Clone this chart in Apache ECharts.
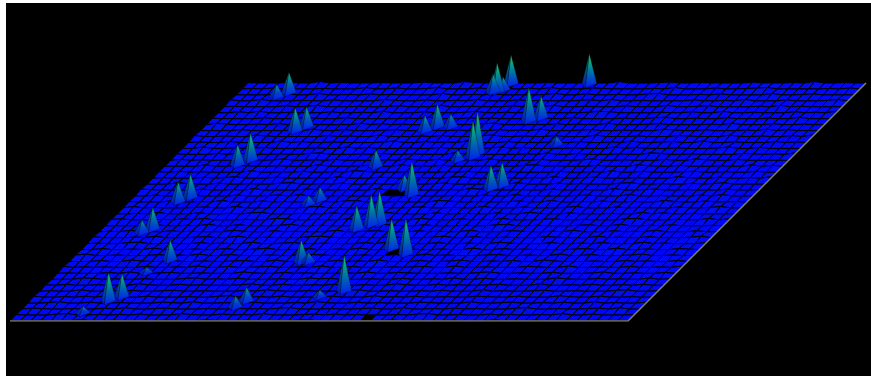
<!DOCTYPE html>
<html>
<head>
<meta charset="utf-8">
<script src="https://cdn.jsdelivr.net/npm/echarts@6/dist/echarts.min.js"></script>
<style>
  html, body { margin: 0; background: #fff; }
  #chart { position: absolute; left: 6px; top: 3px; width: 865px; height: 373px; }
</style>
</head>
<body>
<div id="chart"></div>
<script>
// surface size, in cells
const colCount = 60;
const rowCount = 40;

// small ripple of the floor, one string per row of vertices, front row first
const surfaceRows = [
  '0102001300201002100310020010230010020301001200030102001002010',
  '1000230010102000310020103000120201000102300100201001030020001',
  '0210010020300120001002010230001001200300102010002300100120300',
  '0013002001000210300100200010310020100021000300120010200301002',
  '2001020310020001002300102000120003010200100210020003100200100',
  '0100300102001200100020310010002300100102000301001200100023001',
  '1020010003100201000130020010200100310020100120003001020010200',
  '0003201001000230102000100312000100200103002001000310020100301',
  '0100020300120010003100201000103002100010023001002000130010020',
  '2010100020010300200120010300200010120030010002100300100200103',
  '0002003100200100120030010020103000200130010200310001002010020',
  '1300100020103002000100321000100200301000120010030020001300100',
  '0020010300010020013000200103000210010030020100001200300100210',
  '0100230010020100300120010002030100200100310002001020003010002',
  '2000103000120030010002310010020001300200100021000301002000130',
  '0103000201000310020100030012000201003000210010300020103000200',
  '0000120010300200013001000203100200010023001000120030010200010',
  '1200010203000100320010020100003100201030001200100023000100302',
  '0010300020010230001002000131000200100200310020001003020010000',
  '0301000120030001002301000200120010030002000130002010002001300',
  '1000200103000201000102300010003200100120030010200100310020010',
  '0020031000200120300010002013000100200301000120003001000203000',
  '2100002001030000210010030020001032000100200100300120010002001',
  '0003100200100230010200100300120000103000201000230010020130000',
  '0100020130002000103000210010023000200103001200010003100200103',
  '1020100003001020010320001000102003100002001030020001200100200',
  '0000300210010003000120030102000100023010002000310020001003020',
  '0201000020130010200001030020010300002000130010002003100200000',
  '1000203000100230001020010003120000103002000100320010000210103',
  '0030010120000100302000100200001302000010003020001000130020000',
  '0100200003020010000130020103000200010020010300120030010002010',
  '2001003100000201003000102000230010020003000100021000300100203',
  '0000200001030020001200300100020103000120010003100200010302000',
  '0310010200100003020100001002300000201003000120000103000200100',
  '1000020003100200000103000201000130020000100230010020001003000',
  '0020300100020010300020001300100200001320000100200300100020103',
  '0100002013000100120003001000200130010002000300120000103010000',
  '2003000100200003100200103000201000120300100002001030002000130',
  '0000120030010201000030010200001300200100230001020000300120000',
  '0102000010003002001300020000103000210000103000200123000001020',
  '1000200301000100020003100200010002003000120010000200010300100'
];

// spikes standing on the floor
const spikeCols = [7.6, 8.5, 9.6, 20.5, 21.0, 4.9, 4.1, 9.2, 9.9, 7.7, 6.9, 5.5, 4.7, 4.9, 4.2, 22.5, 23.2, 29.5, 24.7, 25.7, 26.4, 30.0, 31.9, 26.7, 25.4, 20.5, 18.3, 17.6, 21.8, 22.6, 23.9, 29.1, 29.0, 33.8, 34.6, 30.9, 31.8, 25.0, 24.6, 25.4, 25.6, 33.2, 27.8, 35.9, 6.3, 8.5, 27.7];
const spikeRows = [3.4, 4.1, 10.3, 2.4, 3.4, 38.4, 37.7, 32.0, 32.7, 27.1, 26.3, 20.8, 20.1, 15.5, 14.9, 10.0, 10.0, 5.1, 15.5, 16.2, 16.4, 12.2, 11.3, 21.3, 22.3, 26.0, 20.4, 19.7, 32.0, 32.7, 32.7, 28.2, 27.6, 22.3, 22.8, 33.7, 34.2, 38.6, 38.6, 38.9, 39.9, 39.9, 27.1, 29.7, 1.4, 8.2, 4.1];
const spikeHeights = [4.8, 3.9, 3.3, 1.8, 2.3, 3.4, 2.1, 3.9, 3.3, 4.5, 3.4, 3.9, 3.3, 3.6, 2.1, 3.6, 1.5, 6.0, 3.9, 5.1, 5.5, 5.0, 6.0, 5.6, 2.3, 2.8, 2.1, 1.4, 2.6, 3.8, 2.1, 7.1, 6.1, 3.9, 3.9, 5.6, 3.6, 4.8, 2.9, 2.1, 4.8, 5.0, 1.6, 1.3, 1.1, 0.8, 1.1];

// dark holes in the floor
const holeCols = [34, 30, 31, 24, 25, 25];
const holeRows = [0, 11, 11, 21, 21, 39];

const rowShear = 0.5777; // cols of sideways shift per row of depth
const surfaceLift = 0.08;
const spikeHalfCol = 0.72;
const spikeHalfRow = 0.7;

const holeKeys = holeCols.map((c, i) => c + '_' + holeRows[i]);

function project(api, col, row, height) {
  return api.coord([col + row * rowShear, row + height]);
}

function rippleAt(col, row) {
  return (+surfaceRows[row][col] || 0) * surfaceLift;
}

function mix(a, b, t) {
  const c = a.map((v, i) => Math.round(v + (b[i] - v) * t));
  return 'rgb(' + c.join(',') + ')';
}

function renderCell(api, col, row) {
  const h00 = rippleAt(col, row);
  const h10 = rippleAt(col + 1, row);
  const h11 = rippleAt(col + 1, row + 1);
  const h01 = rippleAt(col, row + 1);
  const slope = (h01 + h11 - h00 - h10) / 0.5;
  const hole = holeKeys.indexOf(col + '_' + row) >= 0;
  return {
    type: 'polygon',
    shape: {
      points: [
        project(api, col, row, h00),
        project(api, col + 1, row, h10),
        project(api, col + 1, row + 1, h11),
        project(api, col, row + 1, h01)
      ]
    },
    style: {
      fill: hole ? '#000' : mix([0, 5, 255], [0, 20, 225], Math.min(1, Math.abs(slope))),
      stroke: '#000',
      lineWidth: 1
    }
  };
}

function renderSpike(api, col, row, height) {
  const tip = project(api, col, row, height);
  const left = project(api, col - spikeHalfCol, row, 0);
  const right = project(api, col + spikeHalfCol, row, 0);
  const front = project(api, col, row - spikeHalfRow, 0);
  const t = Math.min(1, height / 4.5);
  const face = (points, base, middle, top) => ({
    type: 'polygon',
    shape: { points: points },
    style: {
      fill: new echarts.graphic.LinearGradient(0, 0, 0, 1, [
        { offset: 0, color: mix(middle, top, t) },
        { offset: 0.5, color: mix(base, middle, t) },
        { offset: 1, color: mix(base, base, 0) }
      ]),
      stroke: 'rgba(0,0,0,0.45)',
      lineWidth: 0.6
    }
  });
  return {
    type: 'group',
    children: [
      face([left, front, tip], [0, 20, 195], [0, 85, 125], [0, 150, 100]),
      face([front, right, tip], [0, 25, 245], [0, 120, 160], [20, 215, 105])
    ]
  };
}

// floor cells and spikes together, far ones first
const items = [];
for (let r = 0; r < rowCount; r++) {
  for (let c = 0; c < colCount; c++) {
    items.push({ key: r + 1, value: [c, r, 0, 0] });
  }
}
spikeCols.forEach((c, i) => {
  items.push({ key: spikeRows[i] - spikeHalfRow, value: [c, spikeRows[i], spikeHeights[i], 1] });
});
items.sort((a, b) => b.key - a.key);

const frameCols = [0, colCount, colCount + rowCount * rowShear];
const frameRows = [0, 0, rowCount];

const chart = echarts.init(document.getElementById('chart'));
chart.setOption({
  backgroundColor: '#000',
  animation: false,
  grid: { left: 4, top: 20.5, width: 856, height: 297.5 },
  xAxis: { type: 'value', min: 0, max: colCount + rowCount * rowShear, show: false },
  yAxis: { type: 'value', min: 0, max: 50, show: false },
  series: [
    {
      type: 'custom',
      coordinateSystem: 'cartesian2d',
      progressive: 0,
      clip: false,
      encode: { x: 0, y: 1 },
      data: items.map((d) => d.value),
      renderItem: function (params, api) {
        const col = api.value(0);
        const row = api.value(1);
        return api.value(3) ? renderSpike(api, col, row, api.value(2)) : renderCell(api, col, row);
      }
    },
    {
      type: 'line',
      symbol: 'none',
      silent: true,
      z: 3,
      lineStyle: { color: '#7a7a6e', width: 1.6 },
      data: frameCols.map((c, i) => [c, frameRows[i]])
    }
  ]
});
</script>
</body>
</html>
